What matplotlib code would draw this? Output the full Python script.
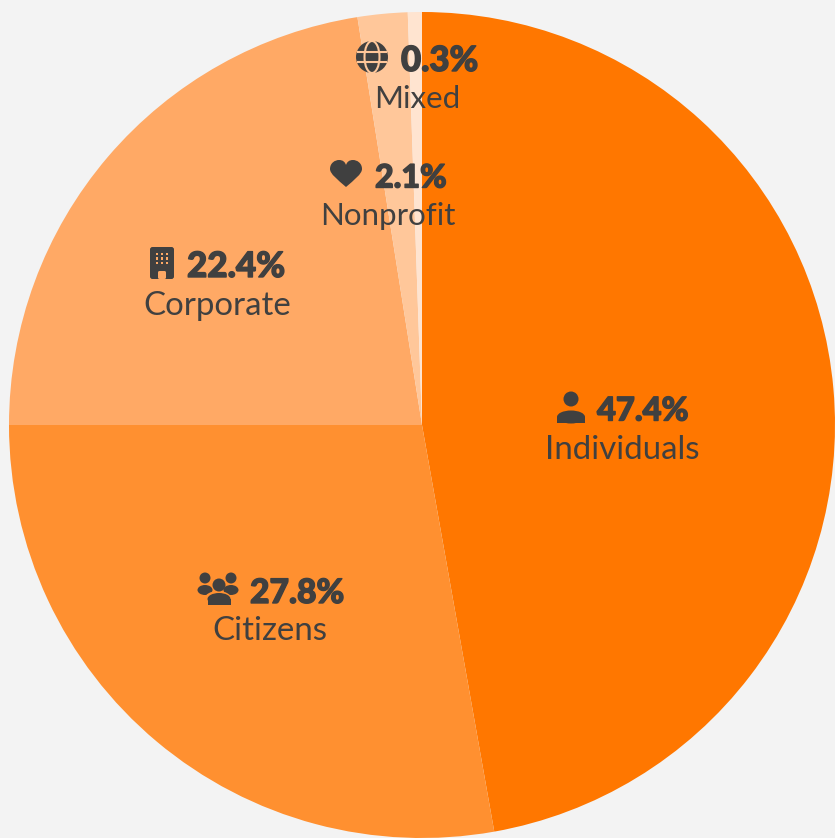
import matplotlib
matplotlib.use("Agg")
import matplotlib.pyplot as plt
import matplotlib.patheffects as pe
from matplotlib.patches import Circle, Ellipse, FancyBboxPatch, PathPatch, Rectangle
from matplotlib.path import Path

W, H = 835, 838
BG = "#f3f3f3"
INK = "#404040"

names = ["Individuals", "Citizens", "Corporate", "Nonprofit", "Mixed"]
pct_labels = ["47.4%", "27.8%", "22.4%", "2.1%", "0.3%"]
shares = [47.2, 27.8, 22.5, 1.95, 0.55]
colors = ["#ff7700", "#ff9030", "#ffa965", "#ffc79a", "#ffe4d0"]

# pixel anchors: icon centre, left edge of number, number y, name centre x, name y
icon_xy = [(571, 407), (218, 589), (162, 263), (346, 174), (372, 57)]
num_xy = [(597, 411), (250, 593), (187, 267), (375, 178), (401, 61)]
name_xy = [(622, 450), (270, 631), (217, 306), (388, 216), (417, 99)]
# Lato runs a bit narrower than the original face on some strings
num_sizes = [23.5, 24.2, 25.2, 23.2, 25.0]
name_sizes = [23.8, 23.8, 23.8, 22.5, 22.5]


def py(y):
    return H - y


def person(ax, x, y):
    ax.add_patch(Circle((x, py(y - 8)), 7.5, fc=INK, ec="none", zorder=5))
    ax.add_patch(Ellipse((x, py(y + 10)), 28, 13, fc=INK, ec="none", zorder=5))
    ax.add_patch(Rectangle((x - 14, py(y + 16)), 28, 6, fc=INK, ec="none", zorder=5))


def people(ax, x, y, bg):
    for side in (-1, 1):
        ax.add_patch(Circle((x + side * 13, py(y - 11)), 5.5, fc=INK, ec="none", zorder=5))
        ax.add_patch(Ellipse((x + side * 13, py(y + 1)), 15, 10, fc=INK, ec="none", zorder=5))
    ax.add_patch(Ellipse((x, py(y + 10)), 27, 16, fc=bg, ec="none", zorder=5))
    ax.add_patch(Circle((x + 1, py(y - 4)), 6.5, fc=INK, ec="none", zorder=6))
    ax.add_patch(Ellipse((x + 1, py(y + 10)), 23, 12, fc=INK, ec="none", zorder=6))
    ax.add_patch(Rectangle((x - 10.5, py(y + 16)), 23, 6, fc=INK, ec="none", zorder=6))


def building(ax, x, y, bg):
    ax.add_patch(FancyBboxPatch((x - 12, py(y + 16)), 24, 32,
                                boxstyle="round,pad=0,rounding_size=2.5", fc=INK, ec="none", zorder=5))
    for row in (-9, -4.5, 0):
        for col in (-5, 0, 5):
            ax.add_patch(Rectangle((x + col - 1.4, py(y + row + 1.4)), 2.8, 2.8, fc=bg, ec="none", zorder=6))
    ax.add_patch(FancyBboxPatch((x - 4, py(y + 16)), 8, 8,
                                boxstyle="round,pad=0,rounding_size=1.5", fc=bg, ec="none", zorder=6))


def heart(ax, x, y):
    verts = [(0, 13), (-8, 6), (-16, 0), (-16, -5), (-16, -11), (-11, -14), (-7, -14),
             (-3, -14), (-1, -12), (0, -9), (1, -12), (3, -14), (7, -14),
             (11, -14), (16, -11), (16, -5), (16, 0), (8, 6), (0, 13)]
    codes = [Path.MOVETO] + [Path.CURVE4] * 18
    pts = [(x + a, py(y + b)) for a, b in verts]
    ax.add_patch(PathPatch(Path(pts, codes), fc=INK, ec="none", zorder=5))


def globe(ax, x, y, bg):
    r = 16
    ax.add_patch(Circle((x, py(y)), r, fc=INK, ec="none", zorder=5))
    ax.add_patch(Ellipse((x, py(y)), 15, 2 * r, fc="none", ec=bg, lw=1.5, zorder=6))
    for dy in (-5, 5):
        ax.plot([x - 15, x + 15], [py(y + dy)] * 2, color=bg, lw=1.5, zorder=6, solid_capstyle="butt")


fig = plt.figure(figsize=(W / 100, H / 100), dpi=100, facecolor=BG)
ax = fig.add_axes([0, 0, 1, 1])
ax.pie(shares, colors=colors, center=(422, py(425)), radius=413, startangle=90,
       counterclock=False, frame=False, wedgeprops={"edgecolor": "none"})
ax.set_xlim(0, W)
ax.set_ylim(0, H)
ax.set_aspect("equal")
ax.axis("off")

person(ax, *icon_xy[0])
people(ax, *icon_xy[1], colors[1])
building(ax, *icon_xy[2], colors[2])
heart(ax, *icon_xy[3])
globe(ax, *icon_xy[4], colors[3])

for pct, name, n_xy, l_xy, n_size, l_size in zip(pct_labels, names, num_xy, name_xy, num_sizes, name_sizes):
    t = ax.text(n_xy[0], py(n_xy[1]), pct, family="Lato", weight=900, fontsize=n_size,
                color=INK, ha="left", va="center", zorder=7)
    t.set_path_effects([pe.withStroke(linewidth=1.0, foreground=INK)])
    ax.text(l_xy[0], py(l_xy[1]), name, family="Lato", fontsize=l_size,
            color=INK, ha="center", va="center", zorder=7)

fig.savefig("out.png", dpi=100, facecolor=BG)
